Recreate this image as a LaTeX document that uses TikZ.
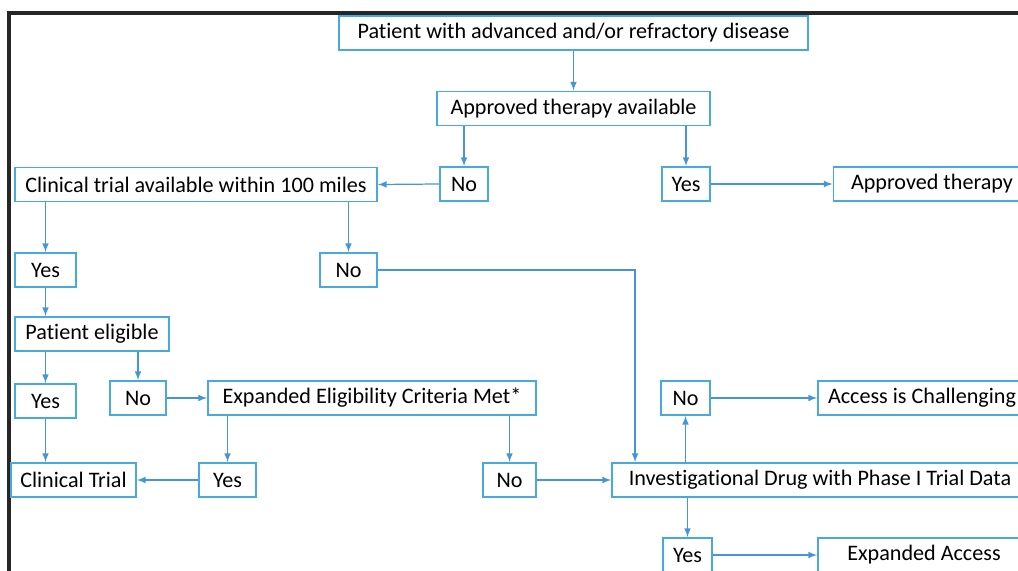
\documentclass[tikz,border=0pt]{standalone}
\usepackage{fontspec}
\setmainfont[Ligatures=NoCommon]{Carlito}
\definecolor{boxblue}{RGB}{72,170,220}
\definecolor{lineblue}{RGB}{70,150,215}
\begin{document}
\begin{tikzpicture}[>=latex,x=0.02cm,y=-0.02cm,
    box/.style={draw=boxblue,line width=1.1pt,fill=white,minimum height=0.68cm,
      inner sep=1pt,font=\fontsize{12.6}{14}\selectfont},
    link/.style={->,draw=lineblue,line width=0.7pt}]
    \path[use as bounding box,clip] (0,0) rectangle (1018,571);
    \draw[line width=2.2pt,black!85] (1100,13) -- (9,13) -- (9,620);
    % first question
    \node at (573.5,33)[box,minimum width=9.38cm] (patient){Patient with advanced and/or refractory disease};
    \node at (573.5,108.5)[box,minimum width=5.46cm] (approved){Approved therapy available};
    \node at (464,184)[box,minimum width=0.96cm] (appno){No};
    \node at (686,184)[box,minimum width=0.96cm] (appyes){Yes};
    \node at (932,184)[box,minimum width=3.94cm] (apptherapy){Approved therapy};
    % clinical trial branch
    \node at (196,184.5)[box,minimum width=7.24cm] (trialnear){Clinical trial available within 100 miles};
    \node at (45.5,270)[box,minimum width=1.22cm] (nearyes){Yes};
    \node at (348.5,270)[box,minimum width=1.14cm] (nearno){No};
    \node at (92,334)[box,minimum width=3.08cm] (eligible){Patient eligible};
    \node at (45.5,401)[box,minimum width=1.22cm] (eligyes){Yes};
    \node at (138,398)[box,minimum width=1.12cm] (eligno){No};
    \node at (372,398)[box,minimum width=6.56cm] (expcrit){Expanded Eligibility Criteria Met*};
    \node at (73.5,480)[box,minimum width=2.5cm] (trial){Clinical Trial};
    \node at (227.5,480)[box,minimum width=1.14cm] (crityes){Yes};
    \node at (509.5,480)[box,minimum width=1.06cm] (critno){No};
    % investigational drug
    \node at (820,480)[box,minimum width=8.32cm] (invdrug){Investigational Drug with Phase I Trial Data};
    \node at (685.5,398)[box,minimum width=0.98cm] (drugno){No};
    \node at (922,398)[box,minimum width=4.16cm] (challenge){Access is Challenging};
    \node at (687.5,555)[box,minimum width=0.98cm] (drugyes){Yes};
    \node at (924,555)[box,minimum width=4.24cm] (expaccess){Expanded Access};
    % connectors
    \draw[link] (patient.south) -- (approved.north);
    \draw[link] (approved.south -| appno) -- (appno.north);
    \draw[link] (approved.south -| appyes) -- (appyes.north);
    \draw[link] (appyes.east) -- (apptherapy.west);
    \draw[link] (appno.west) -- (trialnear.east);
    \draw[link] (trialnear.south -| nearyes) -- (nearyes.north);
    \draw[link] (trialnear.south -| nearno) -- (nearno.north);
    \draw[link] (nearyes.south) -- (nearyes.south |- eligible.north);
    \draw[link] (nearno.east) -| ([xshift=0.48cm]invdrug.north west);
    \draw[link] (eligible.south -| eligyes) -- (eligyes.north);
    \draw[link] (eligible.south -| eligno) -- (eligno.north);
    \draw[link] (eligno.east) -- (expcrit.west);
    \draw[link] (eligyes.south) -- (eligyes.south |- trial.north);
    \draw[link] (expcrit.south -| crityes) -- (crityes.north);
    \draw[link] (expcrit.south -| critno) -- (critno.north);
    \draw[link] (crityes.west) -- (trial.east);
    \draw[link] (critno.east) -- (invdrug.west);
    \draw[link] (invdrug.north -| drugno) -- (drugno.south);
    \draw[link] (drugno.east) -- (challenge.west);
    \draw[link] (invdrug.south -| drugyes) -- (drugyes.north);
    \draw[link] (drugyes.east) -- (expaccess.west);
\end{tikzpicture}
\end{document}
